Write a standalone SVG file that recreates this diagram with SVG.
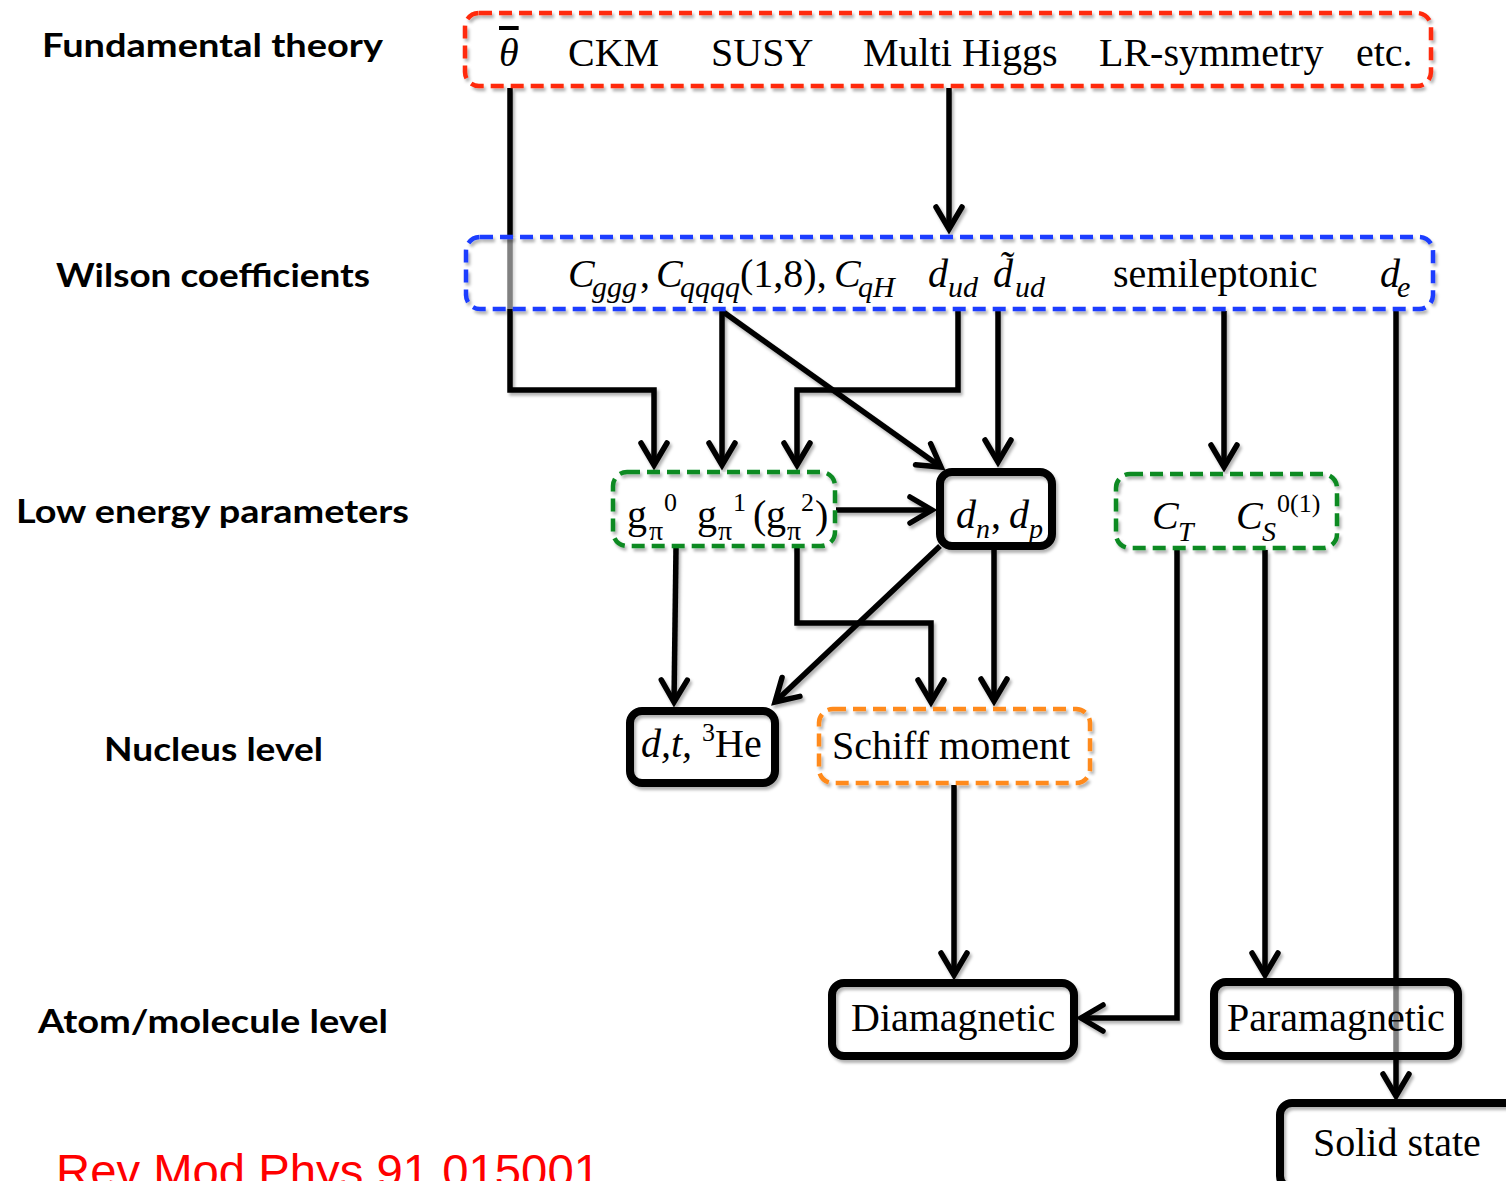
<svg xmlns="http://www.w3.org/2000/svg" width="1506" height="1181" viewBox="0 0 1506 1181">
<style>
.lbl{font-family:Lato,"Open Sans","Liberation Sans",sans-serif;font-weight:bold;font-size:33px;fill:#000}
.t{font-family:"Liberation Serif","Times New Roman",serif;font-size:40px;fill:#000}
.it{font-style:italic}
.sub{font-size:30px}
.sm{font-size:28px}
.sup{font-size:26px}
.bg{fill:#fff;fill-opacity:0.5;stroke:none}
.dash{fill:none;stroke-width:4.5;stroke-dasharray:13 7;filter:url(#sh)}
.solid{fill:none;stroke:#000;stroke-width:8;filter:url(#sh)}
.con{fill:none;stroke:#000;stroke-width:5.5;stroke-linejoin:miter;marker-end:url(#ah);filter:url(#sh)}
.ref{font-family:"Liberation Sans",Arial,sans-serif;font-size:47px;fill:#ff0000}
</style>
<defs>
<filter id="sh" filterUnits="userSpaceOnUse" x="0" y="0" width="1506" height="1181">
<feDropShadow dx="2" dy="3" stdDeviation="1.5" flood-color="#000" flood-opacity="0.3"/>
</filter>
<marker id="ah" markerUnits="userSpaceOnUse" viewBox="-32 -20 40 40" refX="0" refY="0" markerWidth="40" markerHeight="40" orient="auto">
<path d="M-22,-13 L0,0 L-22,13" fill="none" stroke="#000" stroke-width="5.5" stroke-linecap="round"/>
</marker>
</defs>

<g id="labels">
<text class="lbl" x="42" y="57" textLength="341" lengthAdjust="spacingAndGlyphs">Fundamental theory</text>
<text class="lbl" x="56" y="287" textLength="314" lengthAdjust="spacingAndGlyphs">Wilson coefficients</text>
<text class="lbl" x="16" y="523" textLength="393" lengthAdjust="spacingAndGlyphs">Low energy parameters</text>
<text class="lbl" x="104" y="761" textLength="219" lengthAdjust="spacingAndGlyphs">Nucleus level</text>
<text class="lbl" x="38" y="1033" textLength="350" lengthAdjust="spacingAndGlyphs">Atom/molecule level</text>
</g>

<g id="connectors">
<path class="con" d="M510,88 V390 H654 V465"/>
<path class="con" d="M949,88 V229"/>
<path class="con" d="M722,311 V465"/>
<path class="con" d="M722,311 L941,467"/>
<path class="con" d="M958,311 V390 H797 V465"/>
<path class="con" d="M998,311 V462"/>
<path class="con" d="M1224,311 V467"/>
<path class="con" d="M1396,311 V1096"/>
<path class="con" d="M836,510 H932"/>
<path class="con" d="M676,548 L674,702"/>
<path class="con" d="M797,548 V623 H931 V702"/>
<path class="con" d="M940,546 L775,702"/>
<path class="con" d="M994,549 V701"/>
<path class="con" d="M954,785 V975"/>
<path class="con" d="M1177,550 V1018 H1081"/>
<path class="con" d="M1265,550 V975"/>
</g>

<g id="n-fundamental">
<rect class="bg" x="465" y="13" width="966" height="73" rx="14"/>
<rect class="dash" x="465" y="13" width="966" height="73" rx="14" stroke="#ff2a0a"/>
<text class="t it" x="499" y="66" style="text-decoration:overline">θ</text>
<text class="t" x="568" y="66">CKM</text>
<text class="t" x="711" y="66">SUSY</text>
<text class="t" x="863" y="66">Multi Higgs</text>
<text class="t" x="1099" y="66">LR-symmetry</text>
<text class="t" x="1356" y="66">etc.</text>
</g>

<g id="n-wilson">
<rect class="bg" x="466" y="237" width="967" height="72" rx="14"/>
<rect class="dash" x="466" y="237" width="967" height="72" rx="14" stroke="#1a3cff"/>
<text class="t it" x="568" y="287">C</text>
<text class="t it sub" x="592" y="297">ggg</text>
<text class="t" x="640" y="287">,</text>
<text class="t it" x="656" y="287">C</text>
<text class="t it sub" x="680" y="297">qqqq</text>
<text class="t" x="740" y="287">(1,8),</text>
<text class="t it" x="834" y="287">C</text>
<text class="t it sub" x="858" y="297">qH</text>
<text class="t it" x="928" y="287">d</text>
<text class="t it sub" x="948" y="297">ud</text>
<text class="t it" x="993" y="287">d&#x303;</text>
<text class="t it sub" x="1015" y="297">ud</text>
<text class="t" x="1113" y="287">semileptonic</text>
<text class="t it" x="1380" y="287">d</text>
<text class="t it sub" x="1397" y="297">e</text>
</g>

<g id="n-gpi">
<rect class="bg" x="613" y="472" width="222" height="74" rx="14"/>
<rect class="dash" x="613" y="472" width="222" height="74" rx="14" stroke="#0c8a24"/>
<text class="t" x="627" y="528">g</text>
<text class="t sm" x="649" y="540">π</text>
<text class="t sup" x="664" y="511">0</text>
<text class="t" x="697" y="528">g</text>
<text class="t sm" x="718" y="540">π</text>
<text class="t sup" x="733" y="511">1</text>
<text class="t" x="753" y="528">(</text>
<text class="t" x="766" y="528">g</text>
<text class="t sm" x="787" y="540">π</text>
<text class="t sup" x="801" y="511">2</text>
<text class="t" x="815" y="528">)</text>
</g>

<g id="n-dndp">
<rect class="bg" x="940" y="472" width="112" height="74" rx="12"/>
<rect class="solid" x="940" y="472" width="112" height="74" rx="12"/>
<text class="t it" x="956" y="528">d</text>
<text class="t it sm" x="976" y="538">n</text>
<text class="t" x="991" y="528">,</text>
<text class="t it" x="1009" y="528">d</text>
<text class="t it sm" x="1029" y="538">p</text>
</g>

<g id="n-ctcs">
<rect class="bg" x="1116" y="474" width="221" height="74" rx="14"/>
<rect class="dash" x="1116" y="474" width="221" height="74" rx="14" stroke="#0c8a24"/>
<text class="t it" x="1152" y="529">C</text>
<text class="t it sm" x="1178" y="541">T</text>
<text class="t it" x="1236" y="529">C</text>
<text class="t it sm" x="1262" y="541">S</text>
<text class="t sup" x="1277" y="512">0(1)</text>
</g>

<g id="n-dthe">
<rect class="bg" x="630" y="711" width="145" height="72" rx="12"/>
<rect class="solid" x="630" y="711" width="145" height="72" rx="12"/>
<text class="t it" x="641" y="757">d,t,</text>
<text class="t sup" x="702" y="741">3</text>
<text class="t" x="715" y="757">He</text>
</g>

<g id="n-schiff">
<rect class="bg" x="819" y="709" width="271" height="74" rx="14"/>
<rect class="dash" x="819" y="709" width="271" height="74" rx="14" stroke="#ff8a1a"/>
<text class="t" x="832" y="759">Schiff moment</text>
</g>

<g id="n-dia">
<rect class="bg" x="832" y="983" width="242" height="73" rx="12"/>
<rect class="solid" x="832" y="983" width="242" height="73" rx="12"/>
<text class="t" x="851" y="1031">Diamagnetic</text>
</g>

<g id="n-para">
<rect class="bg" x="1214" y="982" width="244" height="74" rx="12"/>
<rect class="solid" x="1214" y="982" width="244" height="74" rx="12"/>
<text class="t" x="1227" y="1031">Paramagnetic</text>
</g>

<g id="n-solid">
<rect class="bg" x="1280" y="1103" width="240" height="85" rx="12"/>
<rect class="solid" x="1280" y="1103" width="240" height="85" rx="12"/>
<text class="t" x="1313" y="1156">Solid state</text>
</g>

<text class="ref" x="56" y="1187" textLength="544" lengthAdjust="spacingAndGlyphs">Rev Mod Phys 91 015001</text>
</svg>
